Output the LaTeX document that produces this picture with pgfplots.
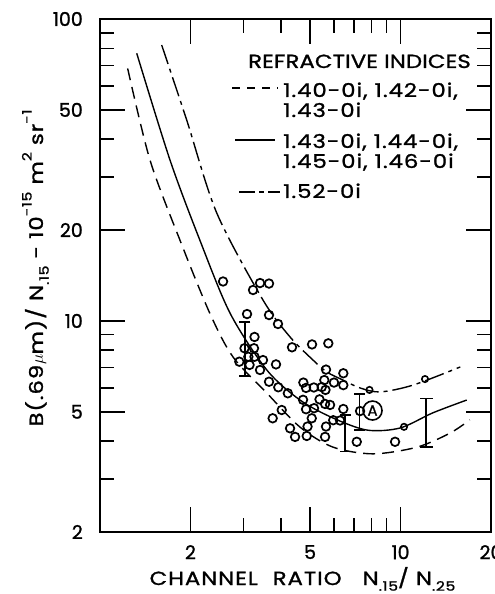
\documentclass[border=0pt]{standalone}
\usepackage{fontspec}
\setmainfont{Poppins}[FakeBold=1.2]
\newfontfamily\lett{Poppins}[FakeStretch=1.2, LetterSpace=5, FakeBold=1.2]
\newfontfamily\lettt{Poppins}[FakeStretch=1.2, LetterSpace=0.5, FakeBold=1.2]
\usepackage{pgfplots}
\pgfplotsset{compat=1.18}
\newcommand\tkf{\fontsize{19}{19}\selectfont}
\newcommand\lgf{\lett\fontsize{19}{19}\selectfont}
\newcommand\sups[1]{\raisebox{0.6em}{\fontsize{13}{13}\selectfont #1}}
\newcommand\subs[1]{\raisebox{-0.3em}{\fontsize{13}{13}\selectfont #1}}
\begin{document}
\begin{tikzpicture}[x=1pt,y=1pt]
\begin{axis}[
  at={(0pt,0pt)}, anchor=south west,
  scale only axis, width=391pt, height=513pt,
  xmode=log, ymode=log,
  xmin=1, xmax=20, ymin=2, ymax=100,
  xtick={2,5,10,20}, xticklabels={2,5,10,20},
  minor xtick={3,4,6,7,8,9},
  ytick={2,5,10,20,50,100}, yticklabels={2,5,10,20,50,100},
  minor ytick={3,4,6,7,8,9,30,40,60,70,80,90},
  tick align=inside,
  major tick length=25pt, minor tick length=14pt,
  every tick/.style={line width=1.4pt, black},
  axis line style={line width=1.8pt},
  xticklabel style={font=\tkf, anchor=north, inner sep=0pt, yshift=-13pt},
  yticklabel style={font=\tkf, anchor=east, inner sep=0pt, xshift=-17pt},
  clip=false,
]
% lower dashed curve
\addplot[smooth, line width=1.4pt, dash pattern=on 12pt off 7pt] coordinates {
(1.236,68.6) (1.467,34.1) (1.846,18.5) (2.32,10.6) (2.77,7.6) (3.59,5.77)
(4.63,4.45) (5.96,3.82) (8.10,3.63) (11.35,3.82) (14.6,4.25) (17.0,4.70)};
% solid curve
\addplot[smooth, line width=1.4pt] coordinates {
(1.325,77) (1.71,34.1) (2.15,18.5) (2.71,10.6) (3.59,6.88)
(4.63,5.47) (5.96,4.77) (7.74,4.35) (9.96,4.42) (12.8,4.96) (16.6,5.47)};
% dash-dot curve
\addplot[smooth, line width=1.4pt, dash pattern=on 20pt off 5pt on 4pt off 5pt] coordinates {
(1.604,82) (1.943,46.3) (2.445,22.8) (3.486,11.73) (4.289,8.85)
(5.115,7.42) (5.69,6.77) (6.44,6.37) (7.33,6.0) (8.55,5.82) (11.0,6.13) (15.8,7.04)};
% observations
\addplot[only marks, mark=o, mark size=4.3pt, line width=1.7pt] coordinates {
(2.567,13.51) (3.230,12.66) (3.408,13.35) (3.651,13.30) (3.085,10.54) (3.651,10.46)
(3.911,9.77) (3.267,8.85) (4.354,8.18) (5.076,8.36) (5.750,8.43) (3.026,8.12)
(3.254,8.12) (3.116,7.61) (3.267,7.61) (3.486,7.42) (2.908,7.33) (3.145,7.15)
(3.852,7.18) (3.408,6.88) (5.650,6.90) (6.451,6.71) (3.651,6.29) (4.749,6.25)
(5.577,6.37) (6.006,6.25) (6.451,6.13) (3.920,6.03) (4.848,6.00) (5.146,6.02)
(5.468,6.04) (5.628,5.91) (4.217,5.76) (4.738,5.48) (5.375,5.50) (5.609,5.31)
(5.827,5.27) (4.848,5.10) (5.154,5.14) (6.451,5.11) (4.024,5.07) (3.755,4.76)
(5.064,4.76) (5.970,4.69) (6.292,4.68) (7.333,5.03) (4.904,4.47) (5.650,4.47)
(4.289,4.41) (4.457,4.13) (4.874,4.16) (5.609,4.13) (7.150,3.98) (9.588,3.98)};
\addplot[only marks, mark=o, mark size=3.2pt, line width=1.6pt] coordinates {
(7.885,5.91) (12.06,6.42) (10.27,4.46)};
% case A
\addplot[only marks, mark=o, mark size=9.5pt, line width=1.6pt,
  nodes near coords={A}, nodes near coords align={center},
  every node near coord/.append style={font=\fontsize{15}{15}\selectfont, inner sep=0pt}] coordinates {(8.069,5.05)};
% error bars
\addplot[line width=1.6pt, mark=-, mark size=5.5pt, mark options={solid}] coordinates {(3.037,6.57) (3.037,9.94)};
\addplot[line width=1.6pt, mark=-, mark size=5.5pt, mark options={solid}] coordinates {(6.536,3.69) (6.536,4.88)};
\addplot[line width=1.6pt, mark=-, mark size=5.5pt, mark options={solid}] coordinates {(7.294,4.35) (7.294,5.73)};
\addplot[line width=1.6pt, mark=-, mark size=6.5pt, mark options={solid}] coordinates {(12.16,3.83) (12.16,5.54)};
\end{axis}
% legend
\node[anchor=base west, inner sep=0pt, font=\lettt\fontsize{19}{19}\selectfont] at (148,464) {REFRACTIVE INDICES};
\draw[line width=1.4pt, dash pattern=on 8pt off 7pt] (132,444) -- (178,444);
\node[anchor=base west, inner sep=0pt, font=\lgf] at (183,435) {1.40-0i, 1.42-0i,};
\node[anchor=base west, inner sep=0pt, font=\lgf] at (183,415) {1.43-0i};
\draw[line width=1.4pt] (135,392) -- (175,392);
\node[anchor=base west, inner sep=0pt, font=\lgf] at (183,384) {1.43-0i, 1.44-0i,};
\node[anchor=base west, inner sep=0pt, font=\lgf] at (183,364) {1.45-0i, 1.46-0i};
\draw[line width=1.4pt, dash pattern=on 16pt off 4pt on 5pt off 4pt] (139,340) -- (180,340);
\node[anchor=base west, inner sep=0pt, font=\lgf] at (183,334) {1.52-0i};
% axis labels
\node[anchor=base, inner sep=0pt, font=\lgf] at (202.5,-53) {CHANNEL\hspace{8pt} RATIO\hspace{14pt} N\subs{.15}/ N\subs{.25}};
\node[anchor=base, rotate=90, inner sep=0pt, font=\lgf] at (-57,264) {B(.69$\mu$m)/ N\subs{.15} - 10\sups{-15} m\sups{2} sr\sups{-1}};
\pgfresetboundingbox
\path[use as bounding box] (-100,-62) rectangle (395,532);
\end{tikzpicture}
\end{document}
